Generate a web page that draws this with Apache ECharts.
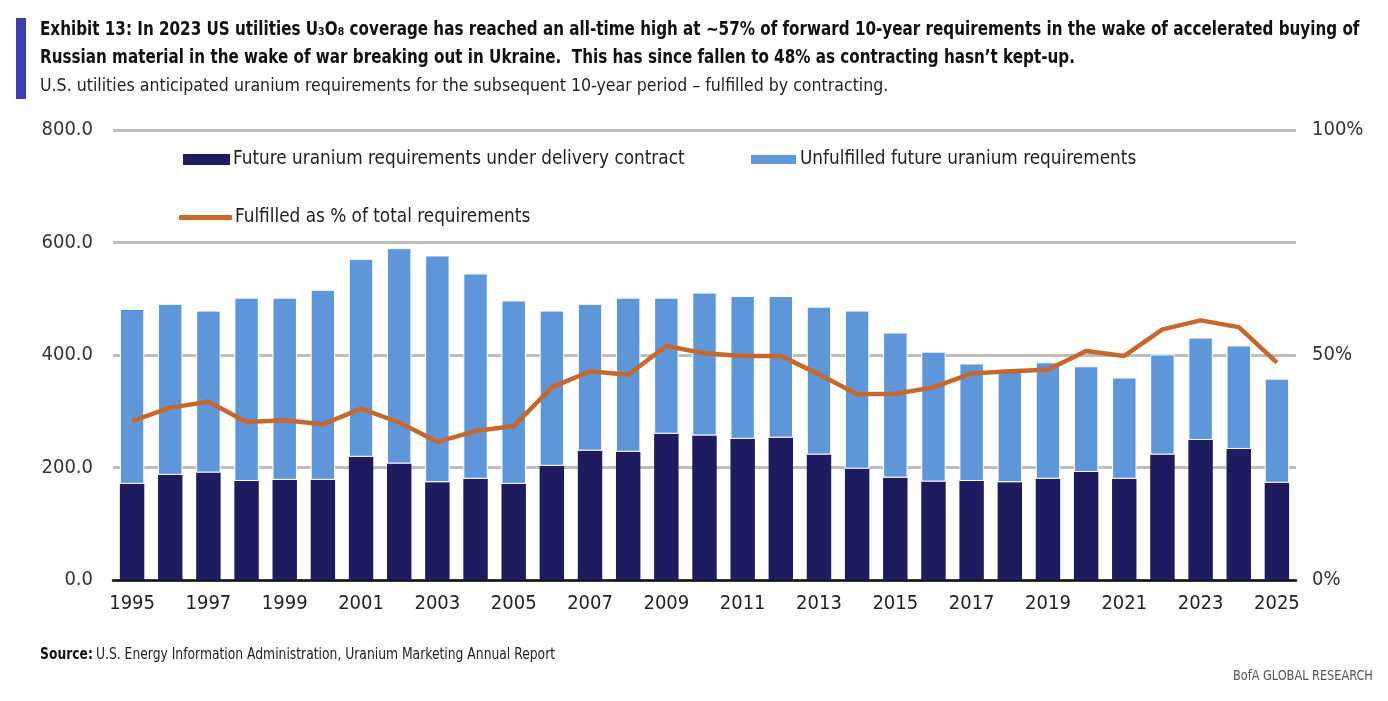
<!DOCTYPE html>
<html>
<head>
<meta charset="utf-8">
<title>Exhibit 13</title>
<script src="https://cdn.jsdelivr.net/npm/echarts@6/dist/echarts.min.js"></script>
<style>
  html, body { margin: 0; padding: 0; background: #fff; }
  #chart { width: 1388px; height: 701px; }
</style>
</head>
<body>
<div id="chart"></div>
<script>
  const years = [
    "1995", "1996", "1997", "1998", "1999", "2000", "2001", "2002", "2003", "2004",
    "2005", "2006", "2007", "2008", "2009", "2010", "2011", "2012", "2013", "2014",
    "2015", "2016", "2017", "2018", "2019", "2020", "2021", "2022", "2023", "2024", "2025"
  ];
  // under delivery contract
  const contracted = [
    171, 187, 191, 176, 178, 178, 219, 207, 174, 180,
    171, 203, 230, 228, 260, 257, 251, 253, 223, 198,
    182, 175, 176, 174, 180, 192, 180, 223, 249, 233, 173
  ];
  // unfulfilled part (sits on top of contracted)
  const unfulfilled = [
    311, 304, 288, 326, 324, 338, 352, 383, 403, 365,
    326, 276, 261, 274, 242, 254, 254, 252, 263, 281,
    258, 231, 209, 200, 207, 188, 180, 178, 182, 184, 185
  ];
  // fulfilled as % of total
  const fulfilledPct = [
    35.3, 38.3, 39.6, 35.1, 35.5, 34.6, 38.1, 35.0, 30.7, 33.1,
    34.2, 42.8, 46.4, 45.6, 52.0, 50.4, 49.8, 49.8, 45.7, 41.3,
    41.4, 42.8, 45.9, 46.4, 46.7, 50.9, 49.8, 55.7, 57.7, 56.2, 48.3
  ];

  const FONT = '"Liberation Sans Narrow", "DejaVu Sans Condensed", sans-serif';
  const NAVY = "#1e1b5f";
  const BLUE = "#5e96d9";
  const ORANGE = "#c6672c";

  const names = [
    "Future uranium requirements under delivery contract",
    "Unfulfilled future uranium requirements",
    "Fulfilled as % of total requirements"
  ];

  const legendText = { fontFamily: FONT, fontSize: 18.8, color: "#222", padding: [0, 0, 0, -2] };

  // condensed look: the report font is narrower than anything installed
  function label(left, top, text, font, fill, sx) {
    return { type: "text", left, top, scaleX: sx, style: { text, font, fill } };
  }

  const chart = echarts.init(document.getElementById("chart"), null, { renderer: "canvas" });

  chart.setOption({
    animation: false,
    textStyle: { fontFamily: FONT },
    graphic: [
      { type: "rect", shape: { x: 16, y: 18, width: 10, height: 81 }, style: { fill: "#3b3fae" } },
      label(40, 21,
        "Exhibit 13: In 2023 US utilities U\u2083O\u2088 coverage has reached an all-time high at ~57% of forward 10-year requirements in the wake of accelerated buying of",
        "bold 19px " + FONT, "#111", 0.888),
      label(40, 49,
        "Russian material in the wake of war breaking out in Ukraine.  This has since fallen to 48% as contracting hasn\u2019t kept-up.",
        "bold 19px " + FONT, "#111", 0.888),
      label(40, 77,
        "U.S. utilities anticipated uranium requirements for the subsequent 10-year period \u2013 fulfilled by contracting.",
        "18px " + FONT, "#222", 0.977),
      {
        type: "text", left: 40, top: 648, scaleX: 0.915,
        style: {
          rich: {
            b: { font: "bold 15px " + FONT, fill: "#111" },
            r: { font: "15px " + FONT, fill: "#222" }
          },
          text: "{b|Source:} {r|U.S. Energy Information Administration, Uranium Marketing Annual Report}"
        }
      },
      label(1233, 669, "BofA GLOBAL RESEARCH", "14px " + FONT, "#555", 0.9)
    ],
    legend: [
      {
        left: 183, top: 150, padding: 0, itemWidth: 47, itemHeight: 11, icon: "rect",
        data: [names[0]], textStyle: legendText, selectedMode: false
      },
      {
        left: 749, top: 150, padding: 0, itemWidth: 47, itemHeight: 11, icon: "rect",
        data: [names[1]], textStyle: legendText, selectedMode: false
      },
      {
        left: 179, top: 208, padding: 0, itemWidth: 53, itemHeight: 5, icon: "roundRect",
        data: [names[2]], textStyle: legendText, selectedMode: false
      }
    ],
    grid: { left: 113, right: 92, top: 130, bottom: 121 },
    xAxis: {
      type: "category",
      data: years,
      axisLine: { lineStyle: { color: "#111", width: 2.5 } },
      axisTick: { show: false },
      axisLabel: { interval: 1, fontFamily: FONT, fontSize: 20, color: "#222", margin: 14 }
    },
    yAxis: [
      {
        type: "value", min: 0, max: 800, interval: 200,
        axisLine: { show: false }, axisTick: { show: false },
        axisLabel: {
          fontFamily: FONT, fontSize: 20, color: "#333", margin: 20,
          formatter: (v) => v.toFixed(1)
        },
        splitLine: { lineStyle: { color: "#bdbdbd", width: 3 } }
      },
      {
        type: "value", min: 0, max: 100, interval: 50,
        axisLine: { show: false }, axisTick: { show: false },
        axisLabel: {
          fontFamily: FONT, fontSize: 20, color: "#333", margin: 16,
          formatter: (v) => v + "%"
        },
        splitLine: { show: false }
      }
    ],
    series: [
      {
        name: names[0], type: "bar", stack: "req", data: contracted,
        barWidth: "64%", itemStyle: { color: NAVY }
      },
      {
        name: names[1], type: "bar", stack: "req", data: unfulfilled,
        barWidth: "64%", itemStyle: { color: BLUE, borderColor: "#fff", borderWidth: 1 }
      },
      {
        name: names[2], type: "line", yAxisIndex: 1, data: fulfilledPct,
        symbol: "none", itemStyle: { color: ORANGE },
        lineStyle: { color: ORANGE, width: 4.5 }, z: 5
      }
    ]
  });

  window.addEventListener("resize", () => chart.resize());
</script>
</body>
</html>
